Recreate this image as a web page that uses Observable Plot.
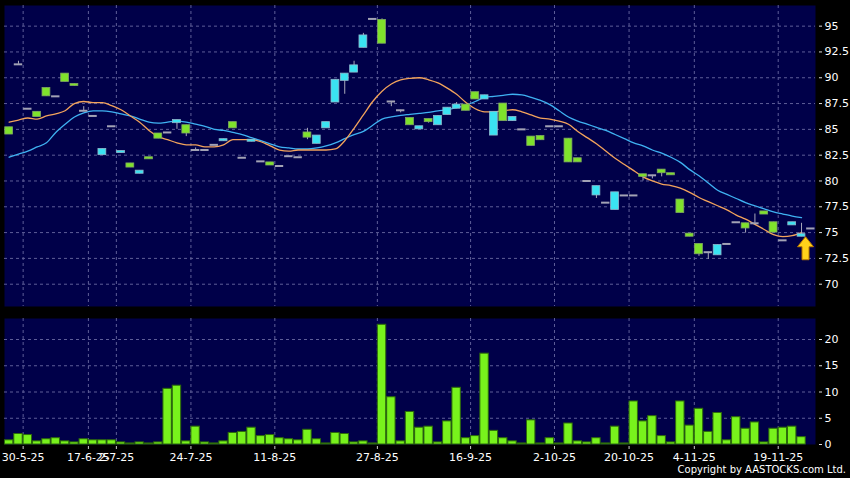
<!DOCTYPE html>
<html><head><meta charset="utf-8">
<script src="https://cdn.jsdelivr.net/npm/d3@7"></script>
<script src="https://cdn.jsdelivr.net/npm/@observablehq/plot@0.6"></script>
<style>
html,body{margin:0;padding:0;background:#000;}
#wrap{position:relative;width:850px;height:478px;overflow:hidden;background:#000;font-family:"DejaVu Sans",sans-serif;}
#price{position:absolute;left:0;top:0;}
#vol{position:absolute;left:0;top:306px;}
#copy{position:absolute;right:4px;top:464px;color:#fff;font-size:10px;font-family:"DejaVu Sans",sans-serif;white-space:nowrap;}
</style></head>
<body>
<div id="wrap"><div id="price"></div><div id="vol"></div><div id="copy">Copyright by AASTOCKS.com Ltd.</div></div>
<script>
// ---- data (one entry per trading slot) ----
const open = [85.2,91.3,87.0,86.7,89.0,88.2,90.4,89.4,86.8,86.3,
 82.5,85.3,82.7,81.7,80.7,82.3,84.6,84.7,85.6,85.4,
 83.0,83.0,83.5,83.85,85.7,82.25,83.8,81.9,81.8,81.45,
 82.4,82.3,84.7,83.6,85.1,87.6,89.7,90.5,92.9,95.7,
 95.6,87.7,86.85,86.1,85.0,86.0,85.4,86.4,87.0,87.4,
 88.6,87.9,84.4,87.5,85.8,85.0,84.3,84.35,85.3,85.3,
 84.1,82.2,80.0,78.6,77.9,77.2,78.6,78.6,80.65,80.55,
 81.1,80.75,78.2,74.9,73.9,73.1,72.8,73.9,76.0,75.9,
 75.9,77.05,76.0,74.25,75.7,74.6,75.4];
const close = [84.5,91.3,87.0,86.2,88.2,88.2,89.6,89.2,86.8,86.3,
 83.1,85.3,82.9,81.3,81.0,82.1,84.1,84.7,85.9,84.6,
 83.0,83.0,83.5,84.05,85.1,82.25,84.0,81.9,81.5,81.45,
 82.4,82.3,84.2,84.4,85.7,89.8,90.4,91.2,94.1,95.7,
 93.3,87.7,86.85,85.4,85.3,85.7,86.3,87.1,87.4,86.8,
 87.9,88.3,86.7,85.8,86.2,85.0,83.4,83.95,85.3,85.3,
 81.8,81.8,80.0,79.5,77.9,78.9,78.6,78.6,80.4,80.55,
 80.75,80.55,76.9,74.6,72.9,73.1,73.8,73.9,76.0,75.4,
 75.9,76.75,75.0,74.25,76.0,74.85,75.4];
const high = [85.2,91.6,87.0,86.7,89.0,88.2,90.4,89.4,87.2,86.3,
 83.1,85.3,82.9,81.7,81.0,82.3,84.6,84.7,85.9,85.4,
 83.2,83.0,83.5,84.05,85.7,82.25,84.0,81.9,81.8,81.45,
 82.4,82.3,85.1,84.4,85.7,89.8,90.4,91.6,94.3,95.7,
 95.7,87.7,86.85,86.1,85.3,86.0,86.3,87.1,87.6,87.4,
 88.6,88.3,86.7,87.5,86.2,85.0,84.3,84.35,85.3,85.3,
 84.1,82.2,80.0,79.5,77.9,78.9,78.6,78.6,80.65,80.55,
 81.1,80.75,78.2,74.9,73.9,73.1,73.8,73.9,76.0,75.9,
 76.8,77.05,76.0,74.25,76.0,75.9,75.4];
const low = [84.5,91.3,87.0,86.2,88.2,88.2,89.6,89.2,86.8,86.3,
 82.5,85.3,82.7,81.3,80.7,82.1,84.1,84.7,85.0,84.3,
 83.0,83.0,83.5,83.85,85.1,82.25,83.8,81.9,81.5,81.45,
 82.4,82.3,84.0,83.6,85.1,87.6,88.4,90.5,92.9,95.7,
 93.3,87.2,86.6,85.4,85.0,85.6,85.4,86.4,87.0,86.8,
 87.9,87.9,84.4,85.8,85.8,85.0,83.4,83.95,85.3,85.3,
 81.8,81.8,80.0,78.3,77.9,77.2,78.6,78.6,80.0,80.2,
 80.4,80.55,76.9,74.6,72.7,72.4,72.8,73.9,76.0,74.95,
 75.9,76.75,75.0,74.25,75.7,74.6,75.4];
const volume = [0.8,2.0,1.8,0.6,1.0,1.2,0.6,0.4,1.0,0.8,
 0.8,0.8,0.4,0.2,0.4,0.2,0.4,10.6,11.2,0.6,
 3.4,0.4,0.2,0.6,2.2,2.4,3.2,1.6,1.8,1.2,
 1.0,0.8,2.8,1.0,0.2,2.2,2.0,0.4,0.6,0.2,
 22.8,9.0,0.6,6.2,3.2,3.4,0.4,4.4,10.8,1.2,
 1.6,17.3,2.6,1.2,0.6,0.2,4.6,0.2,1.2,0.2,
 4.0,0.6,0.4,1.2,0.2,3.4,0.2,8.2,4.4,5.4,
 1.6,0.4,8.2,3.6,6.8,2.4,6.0,0.8,5.2,3.0,
 4.2,0.4,3.0,3.2,3.4,1.4,null];
const ma10 = [85.7,85.9,86.1,86.0,86.3,86.5,86.8,87.5,87.7,87.6,
 87.6,87.3,86.9,86.3,85.7,84.9,84.3,84.0,83.7,83.5,
 83.5,83.3,83.3,83.5,84.0,84.0,84.0,83.8,83.4,83.0,
 82.9,83.0,83.0,83.0,83.0,83.1,83.9,85.1,86.4,87.7,
 88.7,89.4,89.8,89.95,90.0,89.8,89.5,89.0,88.4,87.6,
 87.0,86.7,86.7,86.8,86.9,86.7,86.4,86.1,86.0,85.8,
 85.5,84.8,84.2,83.6,82.9,82.2,81.6,81.0,80.4,80.0,
 79.7,79.55,79.3,78.9,78.4,78.0,77.6,77.2,76.7,76.3,
 75.8,75.3,74.8,74.6,74.7,75.0];
const ma20 = [82.3,82.6,82.9,83.3,83.7,84.7,85.5,86.2,86.6,86.8,
 86.8,86.7,86.5,86.3,86.0,85.7,85.6,85.7,85.8,85.7,
 85.5,85.3,85.0,84.9,84.7,84.5,84.2,83.9,83.6,83.3,
 83.2,83.1,83.1,83.2,83.4,83.7,84.1,84.5,84.8,85.4,
 86.0,86.2,86.35,86.45,86.55,86.65,86.8,86.9,87.1,87.35,
 87.7,88.1,88.2,88.3,88.4,88.35,88.1,87.8,87.4,86.8,
 86.2,85.8,85.5,85.2,84.9,84.5,84.1,83.7,83.4,83.0,
 82.7,82.3,81.8,81.1,80.5,79.8,79.1,78.7,78.3,77.9,
 77.6,77.3,77.0,76.8,76.6,76.45];
const tickSlots = [2,9,12,20,29,40,50,59,67,74,83];
const tickLabels = ["30-5-25","17-6-25","2-7-25","24-7-25","11-8-25","27-8-25","16-9-25","2-10-25","20-10-25","4-11-25","19-11-25"];
const priceTicks = [70,72.5,75,77.5,80,82.5,85,87.5,90,92.5,95];
const volTicks = [0,5,10,15,20];

// ---- build ----
const n = open.length;
const idx = d3.range(n);
const bodies = idx.filter(i => open[i] !== close[i]);
const dojis = idx.filter(i => open[i] === close[i]);
const gridPos = tickSlots.map(s => s - 0.5);
const lastSlot = ma10.length - 1;

const NAVY = "#000049";
const GRID = {stroke: "#5e5e98", strokeOpacity: 1, strokeDasharray: "3,3", strokeWidth: 1};
const xOpt = {type: "linear", domain: [-0.5, n - 0.5]};
const baseStyle = {background: "transparent", color: "#fff", fontFamily: "DejaVu Sans, sans-serif", fontSize: "11px", overflow: "visible"};

const arrowSymbol = {draw(ctx) {
  ctx.moveTo(0, 0); ctx.lineTo(8, 10); ctx.lineTo(3.5, 10); ctx.lineTo(3.5, 23);
  ctx.lineTo(-3.5, 23); ctx.lineTo(-3.5, 10); ctx.lineTo(-8, 10); ctx.closePath();
}};

const pricePlot = Plot.plot({
  width: 850, height: 306,
  marginLeft: 4, marginRight: 35, marginTop: 5, marginBottom: 0,
  style: baseStyle,
  x: {...xOpt, axis: null},
  y: {domain: [67.84, 97.0], axis: null},
  marks: [
    Plot.frame({fill: NAVY, stroke: null}),
    Plot.gridY(priceTicks, GRID),
    Plot.gridX(gridPos, GRID),
    Plot.line(ma20, {x: (d, i) => i, y: d => d, stroke: "#3fb2f2", strokeWidth: 1.3, curve: "monotone-x"}),
    Plot.line(ma10, {x: (d, i) => i, y: d => d, stroke: "#f2a35c", strokeWidth: 1.3, curve: "monotone-x"}),
    Plot.ruleX(idx.filter(i => high[i] > low[i]), {x: i => i, y1: i => low[i], y2: i => high[i], stroke: "#a9a9ba", strokeWidth: 1}),
    Plot.rect(bodies, {x1: i => i - 0.42, x2: i => i + 0.42, y1: i => open[i], y2: i => close[i],
      fill: i => close[i] > open[i] ? "#3ae3f2" : "#7fe22c",
      stroke: i => close[i] > open[i] ? "#8fb8cc" : "#7fa860", strokeWidth: 0.8}),
    Plot.ruleY(dojis, {x1: i => i - 0.45, x2: i => i + 0.45, y: i => close[i], stroke: "#a3a3b5", strokeWidth: 2}),
    Plot.dot([lastSlot], {x: i => i, y: i => low[i], symbol: arrowSymbol, fill: "#ffd21a", stroke: "#b87800", strokeWidth: 1, dx: 4}),
    Plot.axisY(priceTicks, {anchor: "right", tickSize: 3, tickPadding: 3, dx: 3, stroke: "#ddd", tickFormat: d => String(d)})
  ]
});
document.getElementById("price").appendChild(pricePlot);

const volIdx = idx.filter(i => volume[i] != null);
const volPlot = Plot.plot({
  width: 850, height: 172,
  marginLeft: 4, marginRight: 35, marginTop: 12, marginBottom: 34,
  style: baseStyle,
  x: {...xOpt, axis: null},
  y: {domain: [0, 24], axis: null},
  marks: [
    Plot.frame({fill: NAVY, stroke: null}),
    Plot.gridY(volTicks.filter(v => v > 0), GRID),
    Plot.gridX(gridPos, GRID),
    Plot.rect(volIdx, {x1: i => i - 0.45, x2: i => i + 0.45, y1: 0, y2: i => volume[i], fill: "#78f21c", stroke: "#2d6b0a", strokeWidth: 1}),
    Plot.axisY(volTicks, {anchor: "right", tickSize: 3, tickPadding: 3, dx: 3, stroke: "#ddd", tickFormat: d => String(d)}),
    Plot.axisX(gridPos, {anchor: "bottom", tickSize: 3, tickPadding: 4, dy: 2, stroke: "#ccc",
      tickFormat: d => tickLabels[gridPos.indexOf(d)]})
  ]
});
document.getElementById("vol").appendChild(volPlot);
</script>
</body></html>
